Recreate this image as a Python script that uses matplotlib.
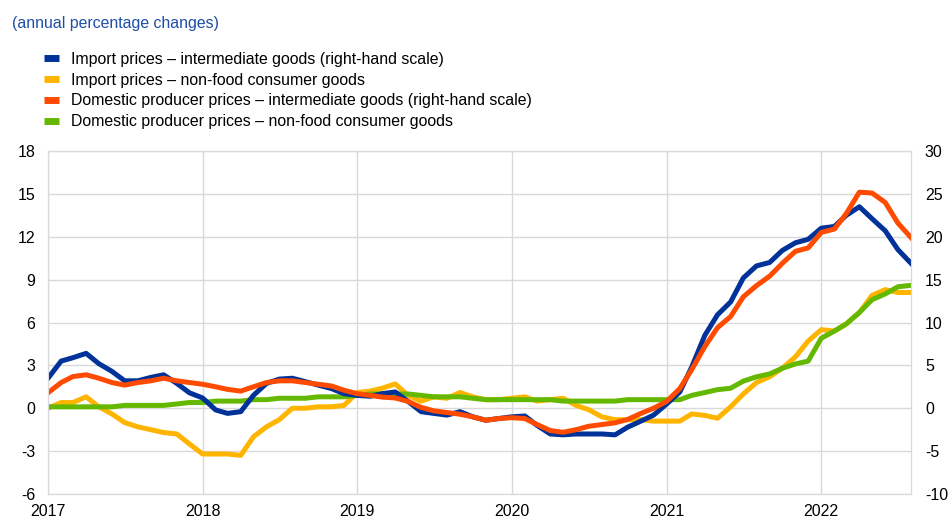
import matplotlib
matplotlib.use('Agg')
import matplotlib.pyplot as plt
from matplotlib.lines import Line2D
import numpy as np
import pandas as pd

plt.rcParams['font.family'] = ['Liberation Sans', 'DejaVu Sans']
plt.rcParams['axes.unicode_minus'] = False

# monthly, Jan 2017 - Aug 2022
months = pd.date_range('2017-01-01', periods=68, freq='MS')

# right-hand scale
import_intermediate = [
    3.5, 5.5, 5.9, 6.4, 5.2, 4.3, 3.2, 3.2, 3.6, 3.9, 2.9, 1.8,
    1.2, -0.2, -0.6, -0.4, 1.5, 2.9, 3.4, 3.5, 3.1, 2.7, 2.3, 1.7,
    1.5, 1.4, 1.7, 1.9, 0.8, -0.4, -0.6, -0.8, -0.4, -1.0, -1.4, -1.2,
    -1.0, -0.9, -2.0, -3.0, -3.1, -3.0, -3.0, -3.0, -3.1, -2.2, -1.5, -0.8,
    0.5, 1.9, 4.8, 8.5, 10.9, 12.4, 15.2, 16.6, 17.0, 18.4, 19.3, 19.7,
    21.0, 21.2, 22.5, 23.5, 22.1, 20.7, 18.5, 16.9]
domestic_intermediate = [
    1.8, 3.0, 3.7, 3.9, 3.5, 3.0, 2.7, 3.0, 3.2, 3.5, 3.2, 3.0,
    2.8, 2.5, 2.2, 2.0, 2.5, 3.0, 3.2, 3.2, 3.0, 2.8, 2.6, 2.1,
    1.7, 1.5, 1.3, 1.2, 0.8, 0.1, -0.3, -0.5, -0.7, -1.0, -1.4, -1.2,
    -1.1, -1.2, -1.9, -2.6, -2.8, -2.5, -2.1, -1.9, -1.7, -1.3, -0.6, 0.0,
    0.8, 2.3, 4.5, 7.2, 9.4, 10.7, 13.0, 14.3, 15.4, 16.9, 18.3, 18.7,
    20.5, 20.9, 22.7, 25.2, 25.1, 24.0, 21.6, 19.9]

# left-hand scale
import_nonfood = [
    0.0, 0.4, 0.4, 0.8, 0.1, -0.4, -1.0, -1.3, -1.5, -1.7, -1.8, -2.5,
    -3.2, -3.2, -3.2, -3.3, -2.0, -1.3, -0.8, 0.0, 0.0, 0.1, 0.1, 0.2,
    1.1, 1.2, 1.4, 1.7, 0.9, 0.5, 0.8, 0.7, 1.1, 0.8, 0.6, 0.6,
    0.7, 0.8, 0.5, 0.6, 0.7, 0.2, -0.1, -0.6, -0.8, -0.8, -0.8, -0.9,
    -0.9, -0.9, -0.4, -0.5, -0.7, 0.1, 1.0, 1.8, 2.2, 2.8, 3.6, 4.7,
    5.5, 5.4, 5.9, 6.7, 7.9, 8.3, 8.1, 8.1]
domestic_nonfood = [
    0.1, 0.1, 0.1, 0.1, 0.1, 0.1, 0.2, 0.2, 0.2, 0.2, 0.3, 0.4,
    0.4, 0.5, 0.5, 0.5, 0.6, 0.6, 0.7, 0.7, 0.7, 0.8, 0.8, 0.8,
    0.9, 1.0, 1.0, 1.0, 1.0, 0.9, 0.8, 0.8, 0.8, 0.7, 0.6, 0.6,
    0.6, 0.6, 0.6, 0.6, 0.5, 0.5, 0.5, 0.5, 0.5, 0.6, 0.6, 0.6,
    0.6, 0.6, 0.9, 1.1, 1.3, 1.4, 1.9, 2.2, 2.4, 2.8, 3.1, 3.3,
    4.9, 5.4, 5.9, 6.7, 7.6, 8.0, 8.5, 8.6]

labels = ['Import prices \u2013 intermediate goods (right-hand scale)',
          'Import prices \u2013 non-food consumer goods',
          'Domestic producer prices \u2013 intermediate goods (right-hand scale)',
          'Domestic producer prices \u2013 non-food consumer goods']
colors = ['#003299', '#FFB400', '#FF4B00', '#65B800']

year_ticks = pd.date_range('2017-01-01', '2022-01-01', freq='YS')

fig = plt.figure(figsize=(9.49, 5.20), dpi=100)
ax = fig.add_axes([0.0506, 0.05, 0.9094, 0.6596])
ax2 = ax.twinx()

lw = 3.6
ax.plot(months, import_nonfood, color=colors[1], lw=lw, solid_joinstyle='round')
ax.plot(months, domestic_nonfood, color=colors[3], lw=lw, solid_joinstyle='round')
ax2.plot(months, import_intermediate, color=colors[0], lw=lw, solid_joinstyle='round')
ax2.plot(months, domestic_intermediate, color=colors[2], lw=lw, solid_joinstyle='round')

ax.set_xlim(months[0], months[-1])
ax.set_ylim(-6, 18)
ax.set_yticks(np.arange(-6, 19, 3))
ax2.set_ylim(-10, 30)
ax2.set_yticks(np.arange(-10, 31, 5))
ax.set_xticks(year_ticks)
ax.set_xticklabels([str(d.year) for d in year_ticks])

ax.grid(True, color='#d9d9d9', lw=1)
ax.set_axisbelow(True)
for a in (ax, ax2):
    for s in a.spines.values():
        s.set_color('#d9d9d9')
    a.tick_params(length=0, labelsize=11.5, colors='black')
ax.tick_params(axis='y', pad=9)
ax2.tick_params(axis='y', pad=10)
ax.tick_params(axis='x', pad=7)

handles = [Line2D([], [], color=c, lw=5, solid_capstyle='butt') for c in colors]
fig.legend(handles, labels, loc='upper left', bbox_to_anchor=(0.046, 0.900),
           frameon=False, fontsize=11.4, handlelength=1.0, handletextpad=0.75,
           labelspacing=0.36, borderpad=0, borderaxespad=0)

fig.text(0.013, 0.955, '(annual percentage changes)', color='#1f4ea8',
         fontsize=11.4, va='center', ha='left')

fig.savefig('out.png', dpi=100)
